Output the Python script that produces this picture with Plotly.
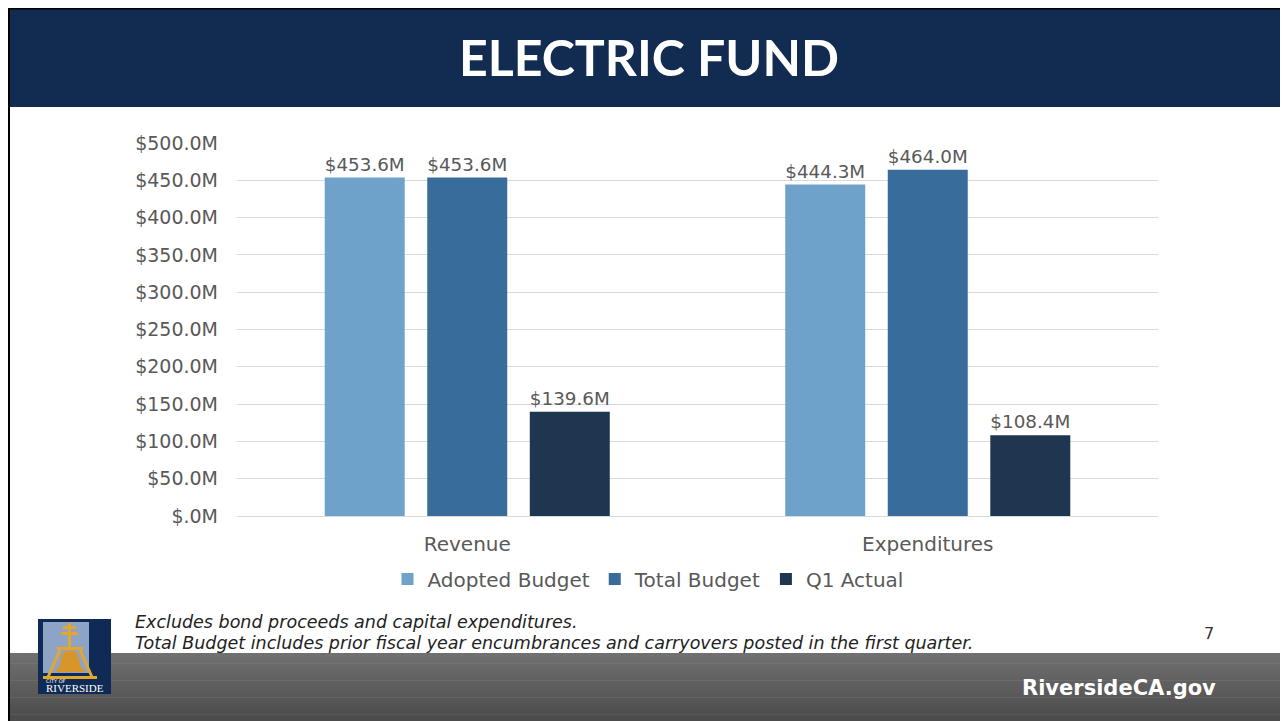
import plotly.graph_objects as go

# ---------------- data ----------------
categories = ["Revenue", "Expenditures"]
adopted_budget = [453.6, 444.3]
total_budget = [453.6, 464.0]
q1_actual = [139.6, 108.4]
series_names = ["Adopted Budget", "Total Budget", "Q1 Actual"]
y_tick_values = [0, 50, 100, 150, 200, 250, 300, 350, 400, 450, 500]
y_tick_labels = ["$.0M", "$50.0M", "$100.0M", "$150.0M", "$200.0M", "$250.0M",
                 "$300.0M", "$350.0M", "$400.0M", "$450.0M", "$500.0M"]

# page has an 8px body margin, so the figure is drawn offset by 8px
OFF = 8
W, H = 1288 - OFF, 721 - OFF
PL, PR, PT, PB = 237, 1158, 143, 516  # plot area in reference pixels


def X(px):
    return (px - PL) / (PR - PL)


def Y(py):
    return (PB - py) / (PB - PT)


colors = ["#6FA2CA", "#376C9B", "#1F3650"]
label_font = dict(family="DejaVu Sans", size=19, color="#595959")

fig = go.Figure()
for name, vals, col in zip(series_names, [adopted_budget, total_budget, q1_actual], colors):
    fig.add_trace(go.Bar(
        x=categories, y=vals, name=name, marker=dict(color=col, line_width=0),
        texttemplate="$%{y:.1f}M", textposition="outside", textfont=label_font,
        cliponaxis=False,
    ))

shapes = []


def rect(x0, y0, x1, y1, color, layer="below"):
    shapes.append(dict(type="rect", xref="paper", yref="paper",
                       x0=X(x0), x1=X(x1), y0=Y(y1), y1=Y(y0),
                       fillcolor=color, line_width=0, layer=layer))


def line(x0, y0, x1, y1, color, width):
    shapes.append(dict(type="line", xref="paper", yref="paper",
                       x0=X(x0), x1=X(x1), y0=Y(y0), y1=Y(y1),
                       line=dict(color=color, width=width), layer="above"))


def path(points, color):
    d = ""
    for cmd, pts in points:
        d += cmd + " " + " ".join(f"{X(a):.5f},{Y(b):.5f}" for a, b in pts) + " "
    d += "Z"
    shapes.append(dict(type="path", xref="paper", yref="paper", path=d,
                       fillcolor=color, line_width=0, layer="above"))


# title banner
rect(10, 8, 1285, 107, "#112B51")
# footer gradient
top_c, bot_c = (112, 112, 112), (76, 76, 76)
n = 20
y_start, y_end = 653, 721
for i in range(n):
    t = i / (n - 1)
    c = tuple(int(top_c[k] + (bot_c[k] - top_c[k]) * t) for k in range(3))
    ya = y_start + (y_end - y_start) * i / n
    yb = y_start + (y_end - y_start) * (i + 1) / n + 0.5
    rect(10, ya, 1285, yb, "rgb(%d,%d,%d)" % c)
# frame border
rect(8, 8, 1288, 9.5, "#000000")
rect(8, 8, 10, 721, "#000000")
rect(1285, 8, 1288, 721, "#000000")

# logo
rect(38, 619, 111, 694, "#0F2A55", layer="above")
rect(43, 622, 89, 673, "#8EA4C6", layer="above")
gold = "#E2A72E"
rect(68, 623, 71, 649, gold, layer="above")
rect(63, 626, 76, 629, gold, layer="above")
rect(61, 632, 78, 635, gold, layer="above")
rect(57, 647, 83, 650, gold, layer="above")
line(60, 650, 48, 677, gold, 3)
line(80, 650, 92, 677, gold, 3)
rect(43, 676, 97, 679, gold, layer="above")
path([("M", [(66, 651)]), ("L", [(74, 651)]), ("Q", [(78, 652), (79, 659)]),
      ("L", [(81, 667)]), ("Q", [(83, 670), (86, 672)]), ("L", [(54, 672)]),
      ("Q", [(57, 670), (59, 667)]), ("L", [(61, 659)]), ("Q", [(62, 652), (66, 651)])],
     "#D8962A")

annotations = [
    dict(text="<b>ELECTRIC FUND</b>", x=X(649), y=Y(57), xref="paper", yref="paper",
         showarrow=False, xanchor="center", yanchor="middle",
         font=dict(family="Lato", size=50, color="#FFFFFF")),
    dict(text="<i>Excludes bond proceeds and capital expenditures.</i>",
         x=X(133), y=Y(622), xref="paper", yref="paper", showarrow=False,
         xanchor="left", yanchor="middle",
         font=dict(family="DejaVu Sans", size=17.5, color="#222222")),
    dict(text="<i>Total Budget includes prior fiscal year encumbrances and carryovers posted in the first quarter.</i>",
         x=X(133), y=Y(643), xref="paper", yref="paper", showarrow=False,
         xanchor="left", yanchor="middle",
         font=dict(family="DejaVu Sans", size=17.5, color="#222222")),
    dict(text="7", x=X(1209), y=Y(633), xref="paper", yref="paper", showarrow=False,
         xanchor="center", yanchor="middle",
         font=dict(family="DejaVu Sans", size=16, color="#333333")),
    dict(text="<b>RiversideCA.gov</b>", x=X(1218), y=Y(688), xref="paper", yref="paper",
         showarrow=False, xanchor="right", yanchor="middle",
         font=dict(family="DejaVu Sans", size=21, color="#FFFFFF")),
    dict(text="CITY OF", x=X(44), y=Y(681), xref="paper", yref="paper", showarrow=False,
         xanchor="left", yanchor="middle",
         font=dict(family="DejaVu Sans", size=5, color="#FFFFFF")),
    dict(text="RIVERSIDE", x=X(75), y=Y(688), xref="paper", yref="paper", showarrow=False,
         xanchor="center", yanchor="middle",
         font=dict(family="Liberation Serif", size=11, color="#FFFFFF")),
]

fig.update_layout(
    width=W, height=H,
    margin=dict(l=PL - OFF, r=W - (PR - OFF), t=PT - OFF, b=H - (PB - OFF), pad=0),
    paper_bgcolor="#FFFFFF", plot_bgcolor="#FFFFFF",
    barmode="group", bargap=0.332, bargroupgap=0.22,
    showlegend=True,
    legend=dict(orientation="h", x=X(648), xanchor="center", y=Y(579), yanchor="middle",
                font=dict(family="DejaVu Sans", size=20, color="#595959"),
                itemclick=False, traceorder="normal"),
    shapes=shapes, annotations=annotations,
    font=dict(family="DejaVu Sans", color="#595959"),
)
fig.update_yaxes(range=[0, 500], tickvals=y_tick_values, ticktext=y_tick_labels,
                 showgrid=True, gridcolor="#D9D9D9", gridwidth=1,
                 zeroline=True, zerolinecolor="#D9D9D9", zerolinewidth=1,
                 tickfont=dict(family="DejaVu Sans", size=19, color="#595959"),
                 ticklabelstandoff=18, showline=False)
fig.update_xaxes(tickfont=dict(family="DejaVu Sans", size=20, color="#595959"),
                 ticklabelstandoff=14, showline=False, showgrid=False)

fig.write_html("out.html")
